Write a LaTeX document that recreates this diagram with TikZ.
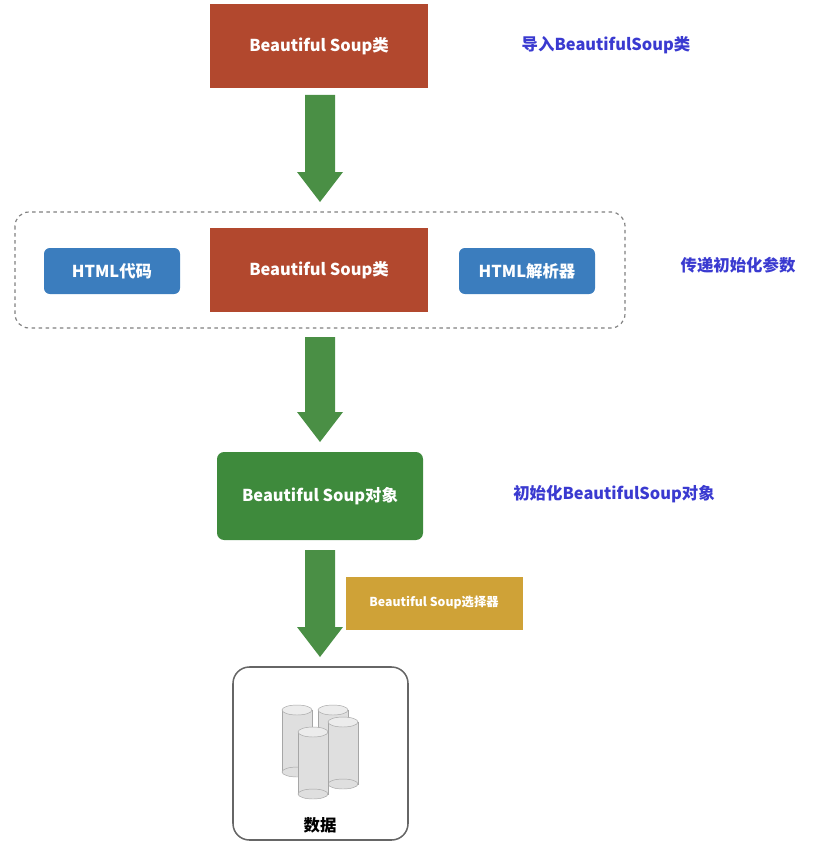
\documentclass[tikz,border=0pt]{standalone}
\usepackage{fontspec}
\setmainfont{Liberation Sans}
\newfontfamily\cjk{Noto Sans CJK SC}
\usetikzlibrary{shapes.geometric}
\definecolor{rbox}{HTML}{B2482E}
\definecolor{bbox}{HTML}{3B7DBE}
\definecolor{gbox}{HTML}{3E8A3C}
\definecolor{garrow}{HTML}{4A8F45}
\definecolor{gold}{HTML}{CFA237}
\definecolor{lbl}{HTML}{3A3AD0}
\begin{document}
\begin{tikzpicture}[x=0.03cm,y=-0.03cm,
  box/.style={draw=none,minimum width=#1*0.03cm,text=white,font=\cjk\bfseries\fontsize{14}{16}\selectfont},
  red/.style={box=218,fill=rbox,minimum height=84*0.03cm},
  blue/.style={box=136,fill=bbox,minimum height=46*0.03cm,rounded corners=5pt},
  lab/.style={text=lbl,font=\cjk\bfseries\fontsize{14}{16}\selectfont,anchor=center},
  arr/.style={fill=garrow,draw=none}]
\useasboundingbox (0,0) rectangle (833,846);
\newcommand{\fatarrow}[2]{\fill[garrow] (305,#1) -- (335,#1) -- (335,#2-30) -- (343,#2-30) -- (320,#2) -- (297,#2-30) -- (305,#2-30) -- cycle;}
\node[red] (c1) at (319,46) {Beautiful Soup类};
\fatarrow{95}{202}
\draw[gray,dashed,line width=1pt,rounded corners=12pt] (15,212) rectangle (625,328);
\node[red] (c2) at (319,270) {Beautiful Soup类};
\node[blue] (h1) at (112,271) {HTML代码};
\node[blue] (h2) at (527,271) {HTML解析器};
\fatarrow{337}{442}
\node[box=206,fill=gbox,minimum height=88*0.03cm,rounded corners=6pt] (obj) at (320,496) {Beautiful Soup对象};
\fatarrow{550}{657}
\node[box=177,fill=gold,minimum height=53*0.03cm,font=\cjk\bfseries\fontsize{10.5}{12}\selectfont] (sel) at (434,603) {Beautiful Soup选择器};
\draw[gray!80!black,line width=1.3pt,fill=white,rounded corners=14pt] (233,667) rectangle (408,840);
\foreach \x/\y in {297/710,333/710,343/722,313/732}{
  \fill[gray!25,draw=gray!70] (\x-15,\y) rectangle (\x+15,\y+62);
  \draw[gray!70,fill=gray!25] (\x,\y+62) ellipse (15*0.03cm and 5*0.03cm);
  \draw[gray!70,fill=gray!15] (\x,\y) ellipse (15*0.03cm and 5*0.03cm);
}
\node[font=\cjk\bfseries\fontsize{14}{16}\selectfont] (data) at (320,825) {数据};
\node[lab] (l1) at (606,45) {导入BeautifulSoup类};
\node[lab] (l2) at (738,265) {传递初始化参数};
\node[lab] (l3) at (614,494) {初始化BeautifulSoup对象};
\end{tikzpicture}
\end{document}
